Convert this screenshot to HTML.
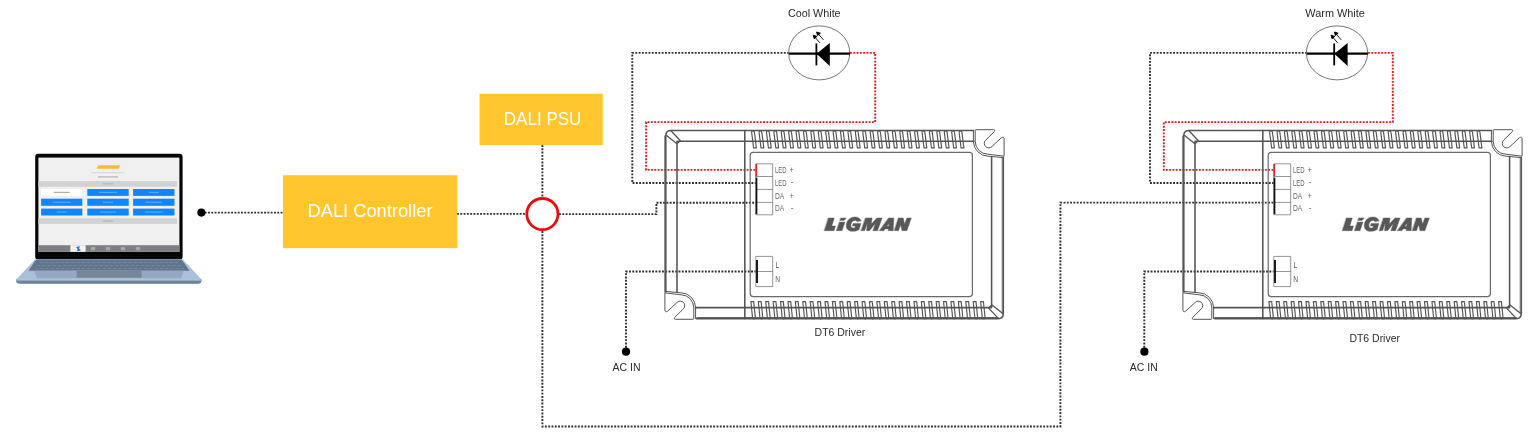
<!DOCTYPE html>
<html><head><meta charset="utf-8">
<style>
html,body{margin:0;padding:0;background:#fff;}
body{width:1536px;height:437px;overflow:hidden;font-family:"Liberation Sans",sans-serif;}
svg{display:block;font-family:"Liberation Sans",sans-serif;filter:blur(0.4px);}
.dot{fill:none;stroke:#303030;stroke-width:1.9;stroke-dasharray:1.9 1.4;}
.rdot{fill:none;stroke:#e21b1b;stroke-width:1.9;stroke-dasharray:1.9 1.4;}
</style></head>
<body>
<svg width="1536" height="437" viewBox="0 0 1536 437">
<defs></defs>


<!-- wires -->
<path class="dot" d="M201.4,212.6 H283"/>
<path class="dot" d="M457,213.9 H526"/>
<path class="dot" d="M542.4,145 V198"/>
<path class="dot" d="M542.4,231 V426.5 H1060.4 V202.6 H1274"/>
<path class="dot" d="M559,214.1 H656.4 V202.7 H756"/>
<path class="dot" d="M789,52.9 H632.3 V183 H756"/>
<path class="rdot" d="M850,52.9 H875.2 V122.1 H646.1 V169.9 H756"/>
<path class="dot" d="M626,351 V271.5 H756"/>
<path class="dot" d="M1307,52.9 H1150 V183 H1274"/>
<path class="rdot" d="M1368,52.9 H1392.8 V122.1 H1163.8 V169.9 H1274"/>
<path class="dot" d="M1144.3,351 V271.5 H1274"/>

<circle cx="201.4" cy="212.6" r="4.1" fill="#000"/>
<circle cx="626" cy="351.7" r="4.1" fill="#000"/>
<circle cx="1144.4" cy="351.7" r="4.1" fill="#000"/>

<!-- boxes -->
<rect x="283" y="175.2" width="174.3" height="73" fill="#ffc72d"/>
<text x="370" y="217" font-size="17.6px" fill="#fff" text-anchor="middle" textLength="125" lengthAdjust="spacingAndGlyphs">DALI Controller</text>
<rect x="479.6" y="93.7" width="123.2" height="51.4" fill="#ffc72d"/>
<text x="542.6" y="125.4" font-size="17.6px" fill="#fff" text-anchor="middle" textLength="77.6" lengthAdjust="spacingAndGlyphs">DALI PSU</text>

<circle cx="542.4" cy="214.1" r="15.6" fill="#fff" stroke="#ee0a0a" stroke-width="2.8"/>


<g fill="none" stroke="#545454" stroke-width="1.55" stroke-linejoin="round" stroke-linecap="round">
  <!-- outer top & left -->
  <path d="M973.6,130.4 L671,130.4 Q665.8,130.4 665.8,135.6 L665.8,292"/>
  <path d="M664.7,136 L664.7,292" stroke-width="0.8"/>
  <path d="M974,141.2 L677,141.2 L677,292"/>
  <path d="M666.6,135.6 L676.9,143.8 L680.4,140.8 L671.2,131"  stroke-width="1.3"/>
  <!-- divider -->
  <path d="M744.8,130.4 L744.8,318.6"/>
  <!-- bottom & right -->
  <path d="M696.5,318.6 L998,318.6 Q1003.3,318.6 1003.3,313.4 L1003.3,157.4"/>
  <path d="M697,317.5 L998,317.5" stroke-width="0.9"/>
  <path d="M1002.2,157.4 L1002.2,313" stroke-width="0.8"/>
  <path d="M695.5,307.6 L991.6,307.6 L991.6,156.4"/>
  <path d="M1002.4,313.3 L992.1,305.1 L988.6,308.1 L997.8,317.9" stroke-width="1.3"/>
  <!-- fins -->
  <g fill="none" stroke-width="1.15">
  <path d="M753.60,147.9 L751.65,132.4 Q751.60,130.8 753.00,130.8 Q754.30,130.8 754.45,132.4 L756.40,147.9 Z"/>
<path d="M761.01,147.9 L759.06,132.4 Q759.01,130.8 760.41,130.8 Q761.71,130.8 761.86,132.4 L763.81,147.9 Z"/>
<path d="M768.42,147.9 L766.47,132.4 Q766.42,130.8 767.82,130.8 Q769.12,130.8 769.27,132.4 L771.22,147.9 Z"/>
<path d="M775.83,147.9 L773.88,132.4 Q773.83,130.8 775.23,130.8 Q776.53,130.8 776.68,132.4 L778.63,147.9 Z"/>
<path d="M783.24,147.9 L781.29,132.4 Q781.24,130.8 782.64,130.8 Q783.94,130.8 784.09,132.4 L786.04,147.9 Z"/>
<path d="M790.65,147.9 L788.70,132.4 Q788.65,130.8 790.05,130.8 Q791.35,130.8 791.50,132.4 L793.45,147.9 Z"/>
<path d="M798.06,147.9 L796.11,132.4 Q796.06,130.8 797.46,130.8 Q798.76,130.8 798.91,132.4 L800.86,147.9 Z"/>
<path d="M805.47,147.9 L803.52,132.4 Q803.47,130.8 804.87,130.8 Q806.17,130.8 806.32,132.4 L808.27,147.9 Z"/>
<path d="M812.88,147.9 L810.93,132.4 Q810.88,130.8 812.28,130.8 Q813.58,130.8 813.73,132.4 L815.68,147.9 Z"/>
<path d="M820.29,147.9 L818.34,132.4 Q818.29,130.8 819.69,130.8 Q820.99,130.8 821.14,132.4 L823.09,147.9 Z"/>
<path d="M827.70,147.9 L825.75,132.4 Q825.70,130.8 827.10,130.8 Q828.40,130.8 828.55,132.4 L830.50,147.9 Z"/>
<path d="M835.11,147.9 L833.16,132.4 Q833.11,130.8 834.51,130.8 Q835.81,130.8 835.96,132.4 L837.91,147.9 Z"/>
<path d="M842.52,147.9 L840.57,132.4 Q840.52,130.8 841.92,130.8 Q843.22,130.8 843.37,132.4 L845.32,147.9 Z"/>
<path d="M849.93,147.9 L847.98,132.4 Q847.93,130.8 849.33,130.8 Q850.63,130.8 850.78,132.4 L852.73,147.9 Z"/>
<path d="M857.34,147.9 L855.39,132.4 Q855.34,130.8 856.74,130.8 Q858.04,130.8 858.19,132.4 L860.14,147.9 Z"/>
<path d="M864.75,147.9 L862.80,132.4 Q862.75,130.8 864.15,130.8 Q865.45,130.8 865.60,132.4 L867.55,147.9 Z"/>
<path d="M872.16,147.9 L870.21,132.4 Q870.16,130.8 871.56,130.8 Q872.86,130.8 873.01,132.4 L874.96,147.9 Z"/>
<path d="M879.57,147.9 L877.62,132.4 Q877.57,130.8 878.97,130.8 Q880.27,130.8 880.42,132.4 L882.37,147.9 Z"/>
<path d="M886.98,147.9 L885.03,132.4 Q884.98,130.8 886.38,130.8 Q887.68,130.8 887.83,132.4 L889.78,147.9 Z"/>
<path d="M894.39,147.9 L892.44,132.4 Q892.39,130.8 893.79,130.8 Q895.09,130.8 895.24,132.4 L897.19,147.9 Z"/>
<path d="M901.80,147.9 L899.85,132.4 Q899.80,130.8 901.20,130.8 Q902.50,130.8 902.65,132.4 L904.60,147.9 Z"/>
<path d="M909.21,147.9 L907.26,132.4 Q907.21,130.8 908.61,130.8 Q909.91,130.8 910.06,132.4 L912.01,147.9 Z"/>
<path d="M916.62,147.9 L914.67,132.4 Q914.62,130.8 916.02,130.8 Q917.32,130.8 917.47,132.4 L919.42,147.9 Z"/>
<path d="M924.03,147.9 L922.08,132.4 Q922.03,130.8 923.43,130.8 Q924.73,130.8 924.88,132.4 L926.83,147.9 Z"/>
<path d="M931.44,147.9 L929.49,132.4 Q929.44,130.8 930.84,130.8 Q932.14,130.8 932.29,132.4 L934.24,147.9 Z"/>
<path d="M938.85,147.9 L936.90,132.4 Q936.85,130.8 938.25,130.8 Q939.55,130.8 939.70,132.4 L941.65,147.9 Z"/>
<path d="M946.26,147.9 L944.31,132.4 Q944.26,130.8 945.66,130.8 Q946.96,130.8 947.11,132.4 L949.06,147.9 Z"/>
<path d="M953.67,147.9 L951.72,132.4 Q951.67,130.8 953.07,130.8 Q954.37,130.8 954.52,132.4 L956.47,147.9 Z"/>
<path d="M961.08,147.9 L959.13,132.4 Q959.08,130.8 960.48,130.8 Q961.78,130.8 961.93,132.4 L963.88,147.9 Z"/>
  <path d="M750.90,301.6 L752.50,317.2 Q752.60,318.8 754.00,318.8 Q755.30,318.8 755.30,317.2 L753.70,301.6 Z"/>
<path d="M758.31,301.6 L759.91,317.2 Q760.01,318.8 761.41,318.8 Q762.71,318.8 762.71,317.2 L761.11,301.6 Z"/>
<path d="M765.72,301.6 L767.32,317.2 Q767.42,318.8 768.82,318.8 Q770.12,318.8 770.12,317.2 L768.52,301.6 Z"/>
<path d="M773.13,301.6 L774.73,317.2 Q774.83,318.8 776.23,318.8 Q777.53,318.8 777.53,317.2 L775.93,301.6 Z"/>
<path d="M780.54,301.6 L782.14,317.2 Q782.24,318.8 783.64,318.8 Q784.94,318.8 784.94,317.2 L783.34,301.6 Z"/>
<path d="M787.95,301.6 L789.55,317.2 Q789.65,318.8 791.05,318.8 Q792.35,318.8 792.35,317.2 L790.75,301.6 Z"/>
<path d="M795.36,301.6 L796.96,317.2 Q797.06,318.8 798.46,318.8 Q799.76,318.8 799.76,317.2 L798.16,301.6 Z"/>
<path d="M802.77,301.6 L804.37,317.2 Q804.47,318.8 805.87,318.8 Q807.17,318.8 807.17,317.2 L805.57,301.6 Z"/>
<path d="M810.18,301.6 L811.78,317.2 Q811.88,318.8 813.28,318.8 Q814.58,318.8 814.58,317.2 L812.98,301.6 Z"/>
<path d="M817.59,301.6 L819.19,317.2 Q819.29,318.8 820.69,318.8 Q821.99,318.8 821.99,317.2 L820.39,301.6 Z"/>
<path d="M825.00,301.6 L826.60,317.2 Q826.70,318.8 828.10,318.8 Q829.40,318.8 829.40,317.2 L827.80,301.6 Z"/>
<path d="M832.41,301.6 L834.01,317.2 Q834.11,318.8 835.51,318.8 Q836.81,318.8 836.81,317.2 L835.21,301.6 Z"/>
<path d="M839.82,301.6 L841.42,317.2 Q841.52,318.8 842.92,318.8 Q844.22,318.8 844.22,317.2 L842.62,301.6 Z"/>
<path d="M847.23,301.6 L848.83,317.2 Q848.93,318.8 850.33,318.8 Q851.63,318.8 851.63,317.2 L850.03,301.6 Z"/>
<path d="M854.64,301.6 L856.24,317.2 Q856.34,318.8 857.74,318.8 Q859.04,318.8 859.04,317.2 L857.44,301.6 Z"/>
<path d="M862.05,301.6 L863.65,317.2 Q863.75,318.8 865.15,318.8 Q866.45,318.8 866.45,317.2 L864.85,301.6 Z"/>
<path d="M869.46,301.6 L871.06,317.2 Q871.16,318.8 872.56,318.8 Q873.86,318.8 873.86,317.2 L872.26,301.6 Z"/>
<path d="M876.87,301.6 L878.47,317.2 Q878.57,318.8 879.97,318.8 Q881.27,318.8 881.27,317.2 L879.67,301.6 Z"/>
<path d="M884.28,301.6 L885.88,317.2 Q885.98,318.8 887.38,318.8 Q888.68,318.8 888.68,317.2 L887.08,301.6 Z"/>
<path d="M891.69,301.6 L893.29,317.2 Q893.39,318.8 894.79,318.8 Q896.09,318.8 896.09,317.2 L894.49,301.6 Z"/>
<path d="M899.10,301.6 L900.70,317.2 Q900.80,318.8 902.20,318.8 Q903.50,318.8 903.50,317.2 L901.90,301.6 Z"/>
<path d="M906.51,301.6 L908.11,317.2 Q908.21,318.8 909.61,318.8 Q910.91,318.8 910.91,317.2 L909.31,301.6 Z"/>
<path d="M913.92,301.6 L915.52,317.2 Q915.62,318.8 917.02,318.8 Q918.32,318.8 918.32,317.2 L916.72,301.6 Z"/>
<path d="M921.33,301.6 L922.93,317.2 Q923.03,318.8 924.43,318.8 Q925.73,318.8 925.73,317.2 L924.13,301.6 Z"/>
<path d="M928.74,301.6 L930.34,317.2 Q930.44,318.8 931.84,318.8 Q933.14,318.8 933.14,317.2 L931.54,301.6 Z"/>
<path d="M936.15,301.6 L937.75,317.2 Q937.85,318.8 939.25,318.8 Q940.55,318.8 940.55,317.2 L938.95,301.6 Z"/>
<path d="M943.56,301.6 L945.16,317.2 Q945.26,318.8 946.66,318.8 Q947.96,318.8 947.96,317.2 L946.36,301.6 Z"/>
<path d="M950.97,301.6 L952.57,317.2 Q952.67,318.8 954.07,318.8 Q955.37,318.8 955.37,317.2 L953.77,301.6 Z"/>
<path d="M958.38,301.6 L959.98,317.2 Q960.08,318.8 961.48,318.8 Q962.78,318.8 962.78,317.2 L961.18,301.6 Z"/>
<path d="M965.79,301.6 L967.39,317.2 Q967.49,318.8 968.89,318.8 Q970.19,318.8 970.19,317.2 L968.59,301.6 Z"/>
<path d="M973.20,301.6 L974.80,317.2 Q974.90,318.8 976.30,318.8 Q977.60,318.8 977.60,317.2 L976.00,301.6 Z"/>
<path d="M980.61,301.6 L982.21,317.2 Q982.31,318.8 983.71,318.8 Q985.01,318.8 985.01,317.2 L983.41,301.6 Z"/>
  </g>
  <!-- inner panel -->
  <rect x="750.2" y="152.3" width="222.2" height="144.3" rx="3" ry="3" stroke-width="1.2" stroke="#6a6a6a"/>
  <!-- hooks -->
  <g stroke-width="1"><path d="M976.2,129.7 L993.6,129.7 Q995.6,129.9 994.4,131.5 L985.6,140.2 A4.3,4.3 0 0 0 991.9,146.6 L1001.3,137.8 Q1004.1,136.2 1004.1,139.2 L1004.1,156.2 L987.8,154.2 A13,13 0 0 1 975.2,141.2 L975.2,130.6 Z" fill="#fff"/>
<path d="M973.4,130.4 L973.4,141.2 A15,15 0 0 0 988,156.2 L1003.4,157.6" /></g>
  <g stroke-width="1" transform="rotate(180 834.5 224.5)"><path d="M976.2,129.7 L993.6,129.7 Q995.6,129.9 994.4,131.5 L985.6,140.2 A4.3,4.3 0 0 0 991.9,146.6 L1001.3,137.8 Q1004.1,136.2 1004.1,139.2 L1004.1,156.2 L987.8,154.2 A13,13 0 0 1 975.2,141.2 L975.2,130.6 Z" fill="#fff"/>
<path d="M973.4,130.4 L973.4,141.2 A15,15 0 0 0 988,156.2 L1003.4,157.6" /></g>
  <!-- terminals -->
  <g stroke="#8a8a8a" stroke-width="0.9">
    <rect x="756.2" y="163.8" width="16.5" height="51"/>
    <path d="M756.2,176.5 H772.7 M756.2,189.4 H772.7 M756.2,202.4 H772.7"/>
    <rect x="756.2" y="256.4" width="16.5" height="30.2"/>
    <path d="M756.2,271.5 H772.7"/>
  </g>
  <path d="M756.3,164 V176.4" stroke="#e02020" stroke-width="1.6" stroke-linecap="butt"/>
  <path d="M756.5,177.6 V214.2" stroke="#111" stroke-width="1.7" stroke-linecap="butt"/>
  <path d="M757,260 V283" stroke="#111" stroke-width="1.9" stroke-linecap="butt"/>
  <g fill="#686868" stroke="none" font-size="8.3px">
    <text x="775" y="172.7" textLength="11.6" lengthAdjust="spacingAndGlyphs">LED</text>
    <text x="789.4" y="172.7" textLength="4.4" lengthAdjust="spacingAndGlyphs">+</text>
    <text x="775" y="185.6" textLength="11.6" lengthAdjust="spacingAndGlyphs">LED</text>
    <text x="790.7" y="184.9">-</text>
    <text x="775" y="198.5" textLength="9.2" lengthAdjust="spacingAndGlyphs">DA</text>
    <text x="789.4" y="198.5" textLength="4.4" lengthAdjust="spacingAndGlyphs">+</text>
    <text x="775" y="211.4" textLength="9.2" lengthAdjust="spacingAndGlyphs">DA</text>
    <text x="790.7" y="210.7">-</text>
    <text x="775.4" y="267.6" textLength="3.6" lengthAdjust="spacingAndGlyphs" fill="#555">L</text>
    <text x="775.2" y="281.6" textLength="4.8" lengthAdjust="spacingAndGlyphs" fill="#555">N</text>
  </g>
  <!-- logo -->
  <g fill="#58585a" stroke="#58585a" stroke-width="6" stroke-linejoin="round" transform="translate(818,210) scale(0.0651)">
    <path d="M160,122 L250,122 L212,245 L270,245 L246,318 L97,318 Z"/>
    <path d="M350,122 L434,122 L400,160 L336,160 Z"/>
    <path d="M330,186 L414,186 L370,318 L284,318 Z"/>
    <path d="M662,166 C650,128 612,106 568,106 C500,106 448,150 436,215 C424,282 462,328 528,328 C570,328 606,318 632,298 L660,206 L540,206 L528,246 L574,246 L568,268 C560,274 550,276 540,276 C512,276 500,252 506,222 C512,186 536,160 566,160 C584,160 594,166 598,178 Z"/>
    <path d="M730,122 L830,122 L820,214 L905,122 L985,122 L915,318 L842,318 L880,208 L792,318 L746,318 L756,204 L716,318 L662,318 Z"/>
    <path fill-rule="evenodd" d="M1085,122 L1165,122 L1155,318 L1080,318 L1082,290 L1030,290 L1012,318 L942,318 Z M1086,204 L1060,250 L1085,250 Z"/>
    <path d="M1235,122 L1310,122 L1330,214 L1365,122 L1435,122 L1365,318 L1290,318 L1270,226 L1237,318 L1172,318 Z"/>
  </g>
</g>

<g transform="translate(518,0)">
<g fill="none" stroke="#545454" stroke-width="1.55" stroke-linejoin="round" stroke-linecap="round">
  <!-- outer top & left -->
  <path d="M973.6,130.4 L671,130.4 Q665.8,130.4 665.8,135.6 L665.8,292"/>
  <path d="M664.7,136 L664.7,292" stroke-width="0.8"/>
  <path d="M974,141.2 L677,141.2 L677,292"/>
  <path d="M666.6,135.6 L676.9,143.8 L680.4,140.8 L671.2,131"  stroke-width="1.3"/>
  <!-- divider -->
  <path d="M744.8,130.4 L744.8,318.6"/>
  <!-- bottom & right -->
  <path d="M696.5,318.6 L998,318.6 Q1003.3,318.6 1003.3,313.4 L1003.3,157.4"/>
  <path d="M697,317.5 L998,317.5" stroke-width="0.9"/>
  <path d="M1002.2,157.4 L1002.2,313" stroke-width="0.8"/>
  <path d="M695.5,307.6 L991.6,307.6 L991.6,156.4"/>
  <path d="M1002.4,313.3 L992.1,305.1 L988.6,308.1 L997.8,317.9" stroke-width="1.3"/>
  <!-- fins -->
  <g fill="none" stroke-width="1.15">
  <path d="M753.60,147.9 L751.65,132.4 Q751.60,130.8 753.00,130.8 Q754.30,130.8 754.45,132.4 L756.40,147.9 Z"/>
<path d="M761.01,147.9 L759.06,132.4 Q759.01,130.8 760.41,130.8 Q761.71,130.8 761.86,132.4 L763.81,147.9 Z"/>
<path d="M768.42,147.9 L766.47,132.4 Q766.42,130.8 767.82,130.8 Q769.12,130.8 769.27,132.4 L771.22,147.9 Z"/>
<path d="M775.83,147.9 L773.88,132.4 Q773.83,130.8 775.23,130.8 Q776.53,130.8 776.68,132.4 L778.63,147.9 Z"/>
<path d="M783.24,147.9 L781.29,132.4 Q781.24,130.8 782.64,130.8 Q783.94,130.8 784.09,132.4 L786.04,147.9 Z"/>
<path d="M790.65,147.9 L788.70,132.4 Q788.65,130.8 790.05,130.8 Q791.35,130.8 791.50,132.4 L793.45,147.9 Z"/>
<path d="M798.06,147.9 L796.11,132.4 Q796.06,130.8 797.46,130.8 Q798.76,130.8 798.91,132.4 L800.86,147.9 Z"/>
<path d="M805.47,147.9 L803.52,132.4 Q803.47,130.8 804.87,130.8 Q806.17,130.8 806.32,132.4 L808.27,147.9 Z"/>
<path d="M812.88,147.9 L810.93,132.4 Q810.88,130.8 812.28,130.8 Q813.58,130.8 813.73,132.4 L815.68,147.9 Z"/>
<path d="M820.29,147.9 L818.34,132.4 Q818.29,130.8 819.69,130.8 Q820.99,130.8 821.14,132.4 L823.09,147.9 Z"/>
<path d="M827.70,147.9 L825.75,132.4 Q825.70,130.8 827.10,130.8 Q828.40,130.8 828.55,132.4 L830.50,147.9 Z"/>
<path d="M835.11,147.9 L833.16,132.4 Q833.11,130.8 834.51,130.8 Q835.81,130.8 835.96,132.4 L837.91,147.9 Z"/>
<path d="M842.52,147.9 L840.57,132.4 Q840.52,130.8 841.92,130.8 Q843.22,130.8 843.37,132.4 L845.32,147.9 Z"/>
<path d="M849.93,147.9 L847.98,132.4 Q847.93,130.8 849.33,130.8 Q850.63,130.8 850.78,132.4 L852.73,147.9 Z"/>
<path d="M857.34,147.9 L855.39,132.4 Q855.34,130.8 856.74,130.8 Q858.04,130.8 858.19,132.4 L860.14,147.9 Z"/>
<path d="M864.75,147.9 L862.80,132.4 Q862.75,130.8 864.15,130.8 Q865.45,130.8 865.60,132.4 L867.55,147.9 Z"/>
<path d="M872.16,147.9 L870.21,132.4 Q870.16,130.8 871.56,130.8 Q872.86,130.8 873.01,132.4 L874.96,147.9 Z"/>
<path d="M879.57,147.9 L877.62,132.4 Q877.57,130.8 878.97,130.8 Q880.27,130.8 880.42,132.4 L882.37,147.9 Z"/>
<path d="M886.98,147.9 L885.03,132.4 Q884.98,130.8 886.38,130.8 Q887.68,130.8 887.83,132.4 L889.78,147.9 Z"/>
<path d="M894.39,147.9 L892.44,132.4 Q892.39,130.8 893.79,130.8 Q895.09,130.8 895.24,132.4 L897.19,147.9 Z"/>
<path d="M901.80,147.9 L899.85,132.4 Q899.80,130.8 901.20,130.8 Q902.50,130.8 902.65,132.4 L904.60,147.9 Z"/>
<path d="M909.21,147.9 L907.26,132.4 Q907.21,130.8 908.61,130.8 Q909.91,130.8 910.06,132.4 L912.01,147.9 Z"/>
<path d="M916.62,147.9 L914.67,132.4 Q914.62,130.8 916.02,130.8 Q917.32,130.8 917.47,132.4 L919.42,147.9 Z"/>
<path d="M924.03,147.9 L922.08,132.4 Q922.03,130.8 923.43,130.8 Q924.73,130.8 924.88,132.4 L926.83,147.9 Z"/>
<path d="M931.44,147.9 L929.49,132.4 Q929.44,130.8 930.84,130.8 Q932.14,130.8 932.29,132.4 L934.24,147.9 Z"/>
<path d="M938.85,147.9 L936.90,132.4 Q936.85,130.8 938.25,130.8 Q939.55,130.8 939.70,132.4 L941.65,147.9 Z"/>
<path d="M946.26,147.9 L944.31,132.4 Q944.26,130.8 945.66,130.8 Q946.96,130.8 947.11,132.4 L949.06,147.9 Z"/>
<path d="M953.67,147.9 L951.72,132.4 Q951.67,130.8 953.07,130.8 Q954.37,130.8 954.52,132.4 L956.47,147.9 Z"/>
<path d="M961.08,147.9 L959.13,132.4 Q959.08,130.8 960.48,130.8 Q961.78,130.8 961.93,132.4 L963.88,147.9 Z"/>
  <path d="M750.90,301.6 L752.50,317.2 Q752.60,318.8 754.00,318.8 Q755.30,318.8 755.30,317.2 L753.70,301.6 Z"/>
<path d="M758.31,301.6 L759.91,317.2 Q760.01,318.8 761.41,318.8 Q762.71,318.8 762.71,317.2 L761.11,301.6 Z"/>
<path d="M765.72,301.6 L767.32,317.2 Q767.42,318.8 768.82,318.8 Q770.12,318.8 770.12,317.2 L768.52,301.6 Z"/>
<path d="M773.13,301.6 L774.73,317.2 Q774.83,318.8 776.23,318.8 Q777.53,318.8 777.53,317.2 L775.93,301.6 Z"/>
<path d="M780.54,301.6 L782.14,317.2 Q782.24,318.8 783.64,318.8 Q784.94,318.8 784.94,317.2 L783.34,301.6 Z"/>
<path d="M787.95,301.6 L789.55,317.2 Q789.65,318.8 791.05,318.8 Q792.35,318.8 792.35,317.2 L790.75,301.6 Z"/>
<path d="M795.36,301.6 L796.96,317.2 Q797.06,318.8 798.46,318.8 Q799.76,318.8 799.76,317.2 L798.16,301.6 Z"/>
<path d="M802.77,301.6 L804.37,317.2 Q804.47,318.8 805.87,318.8 Q807.17,318.8 807.17,317.2 L805.57,301.6 Z"/>
<path d="M810.18,301.6 L811.78,317.2 Q811.88,318.8 813.28,318.8 Q814.58,318.8 814.58,317.2 L812.98,301.6 Z"/>
<path d="M817.59,301.6 L819.19,317.2 Q819.29,318.8 820.69,318.8 Q821.99,318.8 821.99,317.2 L820.39,301.6 Z"/>
<path d="M825.00,301.6 L826.60,317.2 Q826.70,318.8 828.10,318.8 Q829.40,318.8 829.40,317.2 L827.80,301.6 Z"/>
<path d="M832.41,301.6 L834.01,317.2 Q834.11,318.8 835.51,318.8 Q836.81,318.8 836.81,317.2 L835.21,301.6 Z"/>
<path d="M839.82,301.6 L841.42,317.2 Q841.52,318.8 842.92,318.8 Q844.22,318.8 844.22,317.2 L842.62,301.6 Z"/>
<path d="M847.23,301.6 L848.83,317.2 Q848.93,318.8 850.33,318.8 Q851.63,318.8 851.63,317.2 L850.03,301.6 Z"/>
<path d="M854.64,301.6 L856.24,317.2 Q856.34,318.8 857.74,318.8 Q859.04,318.8 859.04,317.2 L857.44,301.6 Z"/>
<path d="M862.05,301.6 L863.65,317.2 Q863.75,318.8 865.15,318.8 Q866.45,318.8 866.45,317.2 L864.85,301.6 Z"/>
<path d="M869.46,301.6 L871.06,317.2 Q871.16,318.8 872.56,318.8 Q873.86,318.8 873.86,317.2 L872.26,301.6 Z"/>
<path d="M876.87,301.6 L878.47,317.2 Q878.57,318.8 879.97,318.8 Q881.27,318.8 881.27,317.2 L879.67,301.6 Z"/>
<path d="M884.28,301.6 L885.88,317.2 Q885.98,318.8 887.38,318.8 Q888.68,318.8 888.68,317.2 L887.08,301.6 Z"/>
<path d="M891.69,301.6 L893.29,317.2 Q893.39,318.8 894.79,318.8 Q896.09,318.8 896.09,317.2 L894.49,301.6 Z"/>
<path d="M899.10,301.6 L900.70,317.2 Q900.80,318.8 902.20,318.8 Q903.50,318.8 903.50,317.2 L901.90,301.6 Z"/>
<path d="M906.51,301.6 L908.11,317.2 Q908.21,318.8 909.61,318.8 Q910.91,318.8 910.91,317.2 L909.31,301.6 Z"/>
<path d="M913.92,301.6 L915.52,317.2 Q915.62,318.8 917.02,318.8 Q918.32,318.8 918.32,317.2 L916.72,301.6 Z"/>
<path d="M921.33,301.6 L922.93,317.2 Q923.03,318.8 924.43,318.8 Q925.73,318.8 925.73,317.2 L924.13,301.6 Z"/>
<path d="M928.74,301.6 L930.34,317.2 Q930.44,318.8 931.84,318.8 Q933.14,318.8 933.14,317.2 L931.54,301.6 Z"/>
<path d="M936.15,301.6 L937.75,317.2 Q937.85,318.8 939.25,318.8 Q940.55,318.8 940.55,317.2 L938.95,301.6 Z"/>
<path d="M943.56,301.6 L945.16,317.2 Q945.26,318.8 946.66,318.8 Q947.96,318.8 947.96,317.2 L946.36,301.6 Z"/>
<path d="M950.97,301.6 L952.57,317.2 Q952.67,318.8 954.07,318.8 Q955.37,318.8 955.37,317.2 L953.77,301.6 Z"/>
<path d="M958.38,301.6 L959.98,317.2 Q960.08,318.8 961.48,318.8 Q962.78,318.8 962.78,317.2 L961.18,301.6 Z"/>
<path d="M965.79,301.6 L967.39,317.2 Q967.49,318.8 968.89,318.8 Q970.19,318.8 970.19,317.2 L968.59,301.6 Z"/>
<path d="M973.20,301.6 L974.80,317.2 Q974.90,318.8 976.30,318.8 Q977.60,318.8 977.60,317.2 L976.00,301.6 Z"/>
<path d="M980.61,301.6 L982.21,317.2 Q982.31,318.8 983.71,318.8 Q985.01,318.8 985.01,317.2 L983.41,301.6 Z"/>
  </g>
  <!-- inner panel -->
  <rect x="750.2" y="152.3" width="222.2" height="144.3" rx="3" ry="3" stroke-width="1.2" stroke="#6a6a6a"/>
  <!-- hooks -->
  <g stroke-width="1"><path d="M976.2,129.7 L993.6,129.7 Q995.6,129.9 994.4,131.5 L985.6,140.2 A4.3,4.3 0 0 0 991.9,146.6 L1001.3,137.8 Q1004.1,136.2 1004.1,139.2 L1004.1,156.2 L987.8,154.2 A13,13 0 0 1 975.2,141.2 L975.2,130.6 Z" fill="#fff"/>
<path d="M973.4,130.4 L973.4,141.2 A15,15 0 0 0 988,156.2 L1003.4,157.6" /></g>
  <g stroke-width="1" transform="rotate(180 834.5 224.5)"><path d="M976.2,129.7 L993.6,129.7 Q995.6,129.9 994.4,131.5 L985.6,140.2 A4.3,4.3 0 0 0 991.9,146.6 L1001.3,137.8 Q1004.1,136.2 1004.1,139.2 L1004.1,156.2 L987.8,154.2 A13,13 0 0 1 975.2,141.2 L975.2,130.6 Z" fill="#fff"/>
<path d="M973.4,130.4 L973.4,141.2 A15,15 0 0 0 988,156.2 L1003.4,157.6" /></g>
  <!-- terminals -->
  <g stroke="#8a8a8a" stroke-width="0.9">
    <rect x="756.2" y="163.8" width="16.5" height="51"/>
    <path d="M756.2,176.5 H772.7 M756.2,189.4 H772.7 M756.2,202.4 H772.7"/>
    <rect x="756.2" y="256.4" width="16.5" height="30.2"/>
    <path d="M756.2,271.5 H772.7"/>
  </g>
  <path d="M756.3,164 V176.4" stroke="#e02020" stroke-width="1.6" stroke-linecap="butt"/>
  <path d="M756.5,177.6 V214.2" stroke="#111" stroke-width="1.7" stroke-linecap="butt"/>
  <path d="M757,260 V283" stroke="#111" stroke-width="1.9" stroke-linecap="butt"/>
  <g fill="#686868" stroke="none" font-size="8.3px">
    <text x="775" y="172.7" textLength="11.6" lengthAdjust="spacingAndGlyphs">LED</text>
    <text x="789.4" y="172.7" textLength="4.4" lengthAdjust="spacingAndGlyphs">+</text>
    <text x="775" y="185.6" textLength="11.6" lengthAdjust="spacingAndGlyphs">LED</text>
    <text x="790.7" y="184.9">-</text>
    <text x="775" y="198.5" textLength="9.2" lengthAdjust="spacingAndGlyphs">DA</text>
    <text x="789.4" y="198.5" textLength="4.4" lengthAdjust="spacingAndGlyphs">+</text>
    <text x="775" y="211.4" textLength="9.2" lengthAdjust="spacingAndGlyphs">DA</text>
    <text x="790.7" y="210.7">-</text>
    <text x="775.4" y="267.6" textLength="3.6" lengthAdjust="spacingAndGlyphs" fill="#555">L</text>
    <text x="775.2" y="281.6" textLength="4.8" lengthAdjust="spacingAndGlyphs" fill="#555">N</text>
  </g>
  <!-- logo -->
  <g fill="#58585a" stroke="#58585a" stroke-width="6" stroke-linejoin="round" transform="translate(818,210) scale(0.0651)">
    <path d="M160,122 L250,122 L212,245 L270,245 L246,318 L97,318 Z"/>
    <path d="M350,122 L434,122 L400,160 L336,160 Z"/>
    <path d="M330,186 L414,186 L370,318 L284,318 Z"/>
    <path d="M662,166 C650,128 612,106 568,106 C500,106 448,150 436,215 C424,282 462,328 528,328 C570,328 606,318 632,298 L660,206 L540,206 L528,246 L574,246 L568,268 C560,274 550,276 540,276 C512,276 500,252 506,222 C512,186 536,160 566,160 C584,160 594,166 598,178 Z"/>
    <path d="M730,122 L830,122 L820,214 L905,122 L985,122 L915,318 L842,318 L880,208 L792,318 L746,318 L756,204 L716,318 L662,318 Z"/>
    <path fill-rule="evenodd" d="M1085,122 L1165,122 L1155,318 L1080,318 L1082,290 L1030,290 L1012,318 L942,318 Z M1086,204 L1060,250 L1085,250 Z"/>
    <path d="M1235,122 L1310,122 L1330,214 L1365,122 L1435,122 L1365,318 L1290,318 L1270,226 L1237,318 L1172,318 Z"/>
  </g>
</g>
</g>
<g>  <ellipse cx="819.2" cy="52.9" rx="30.6" ry="27" fill="#fff" stroke="#666" stroke-width="0.9"/>
  <path d="M789,53.6 H850" stroke="#000" stroke-width="2.2"/>
  <path d="M816.4,43.4 V65.4" stroke="#000" stroke-width="1.8"/>
  <path d="M816.6,53.8 L829.8,43 L829.8,66 Z" fill="#000"/>
  <g stroke="#000" stroke-width="0.9" fill="#000">
   <path d="M819.8,42.8 L814.8,37"/><path d="M813.2,35.2 L817,36.4 L814.2,38.8 Z"/>
   <path d="M823.4,39.8 L818.2,33.8"/><path d="M816.6,32 L820.4,33.2 L817.6,35.6 Z"/>
  </g>
</g>
<g transform="translate(517.8,0)">  <ellipse cx="819.2" cy="52.9" rx="30.6" ry="27" fill="#fff" stroke="#666" stroke-width="0.9"/>
  <path d="M789,53.6 H850" stroke="#000" stroke-width="2.2"/>
  <path d="M816.4,43.4 V65.4" stroke="#000" stroke-width="1.8"/>
  <path d="M816.6,53.8 L829.8,43 L829.8,66 Z" fill="#000"/>
  <g stroke="#000" stroke-width="0.9" fill="#000">
   <path d="M819.8,42.8 L814.8,37"/><path d="M813.2,35.2 L817,36.4 L814.2,38.8 Z"/>
   <path d="M823.4,39.8 L818.2,33.8"/><path d="M816.6,32 L820.4,33.2 L817.6,35.6 Z"/>
  </g>
</g>

<g font-size="11px" fill="#2a2a2a">
<text x="788" y="16.6" textLength="52.6" lengthAdjust="spacingAndGlyphs">Cool White</text>
<text x="1305.3" y="16.6" textLength="59.6" lengthAdjust="spacingAndGlyphs">Warm White</text>
<text x="814.6" y="336" textLength="50.6" lengthAdjust="spacingAndGlyphs">DT6 Driver</text>
<text x="1349.4" y="342.3" textLength="50.6" lengthAdjust="spacingAndGlyphs">DT6 Driver</text>
<text x="612.5" y="371" textLength="28" lengthAdjust="spacingAndGlyphs">AC IN</text>
<text x="1129.8" y="371" textLength="28" lengthAdjust="spacingAndGlyphs">AC IN</text>
</g>

<!-- LAPTOP -->
<g id="laptop">
<rect x="35.2" y="153.8" width="147.4" height="106" rx="3.2" ry="3.2" fill="#050505"/>
<rect x="38.4" y="157.6" width="141" height="94.2" fill="#f0f0f0"/>
<path d="M96.6,168.8 L98.2,165.2 L120.2,165.2 L118.8,168.8 Z" fill="#f7b21a" opacity="0.85"/>
<rect x="91" y="172.2" width="33.5" height="1.1" fill="#d6d6d6"/>
<rect x="98" y="176.2" width="20" height="1.4" fill="#bdbdbd"/>
<rect x="38.4" y="181" width="138.8" height="5.8" fill="#d2d2d2"/>
<rect x="103" y="183.2" width="10" height="1.2" fill="#b5b5b5"/>
<rect x="38.4" y="218.3" width="138.8" height="5.6" fill="#d2d2d2"/>
<rect x="103" y="220.4" width="10" height="1.2" fill="#b5b5b5"/>
<rect x="41.1" y="189" width="41.2" height="6.9" fill="#ffffff"/>
<rect x="53.7" y="191.8" width="16" height="1.2" fill="#b0b0b0"/>
<rect x="87.3" y="189" width="41.4" height="6.9" fill="#0d86ff"/>
<rect x="99.0" y="191.8" width="18" height="1.2" fill="#55a8ff"/>
<rect x="133.1" y="189" width="41.4" height="6.9" fill="#0d86ff"/>
<rect x="148.8" y="191.8" width="10" height="1.2" fill="#55a8ff"/>
<rect x="41.1" y="198.7" width="41.2" height="7.1" fill="#0d86ff"/>
<rect x="52.7" y="201.7" width="18" height="1.2" fill="#55a8ff"/>
<rect x="87.3" y="198.7" width="41.4" height="7.1" fill="#0d86ff"/>
<rect x="103.0" y="201.7" width="10" height="1.2" fill="#55a8ff"/>
<rect x="133.1" y="198.7" width="41.4" height="7.1" fill="#0d86ff"/>
<rect x="145.8" y="201.7" width="16" height="1.2" fill="#55a8ff"/>
<rect x="41.1" y="208.6" width="41.2" height="6.9" fill="#0d86ff"/>
<rect x="56.7" y="211.5" width="10" height="1.2" fill="#55a8ff"/>
<rect x="87.3" y="208.6" width="41.4" height="6.9" fill="#0d86ff"/>
<rect x="100.0" y="211.5" width="16" height="1.2" fill="#55a8ff"/>
<rect x="133.1" y="208.6" width="41.4" height="6.9" fill="#0d86ff"/>
<rect x="144.8" y="211.5" width="18" height="1.2" fill="#55a8ff"/>
<rect x="38.4" y="245.2" width="141" height="6.6" fill="#7d7f82"/>
<rect x="70.4" y="245.2" width="15.2" height="6.6" fill="#f4f4f4"/>
<path d="M76,247 L80,246.2 L79,248.6 L81,250.4 L77,251.2 L77.6,249 Z" fill="#1a78e6"/>
<rect x="90.8" y="247" width="4.4" height="3.2" rx="0.8" fill="#a6a8aa"/>
<rect x="105.8" y="247" width="4.4" height="3.2" rx="0.8" fill="#a6a8aa"/>
<rect x="120.8" y="247" width="4.4" height="3.2" rx="0.8" fill="#a6a8aa"/>
<rect x="135.8" y="247" width="4.4" height="3.2" rx="0.8" fill="#a6a8aa"/>
<path d="M35.2,259.3 L182.6,259.3 L201.6,279.6 L201.2,282 Q200.6,283.6 198,283.6 L20,283.6 Q17,283.6 16.4,282 L16.2,279.6 Z" fill="#a9c0db"/>
<path d="M36,259.8 L181.8,259.8 L189.6,270.8 L28.4,270.8 Z" fill="#60758b"/>
<path d="M40,262.6 H178 M37,265.6 H181 M35,268.4 H184" stroke="#778ba1" stroke-width="0.9" stroke-dasharray="3.4 1.8" fill="none"/>
<path d="M34,270.8 L184,270.8 L181,278.2 L37,278.2 Z" fill="#93a8c1"/>
<rect x="76.6" y="270.8" width="65" height="6.8" fill="#748698"/>
<path d="M16.2,279.6 L201.6,279.6 L201.2,282 Q200.6,283.8 198,283.8 L20,283.8 Q17,283.8 16.4,282 Z" fill="#6f8298"/>
<path d="M17.5,279.2 L200.4,279.2 L201.4,280.4 L16.4,280.4 Z" fill="#b9cfe8"/>
</g>
</svg>
</body></html>
